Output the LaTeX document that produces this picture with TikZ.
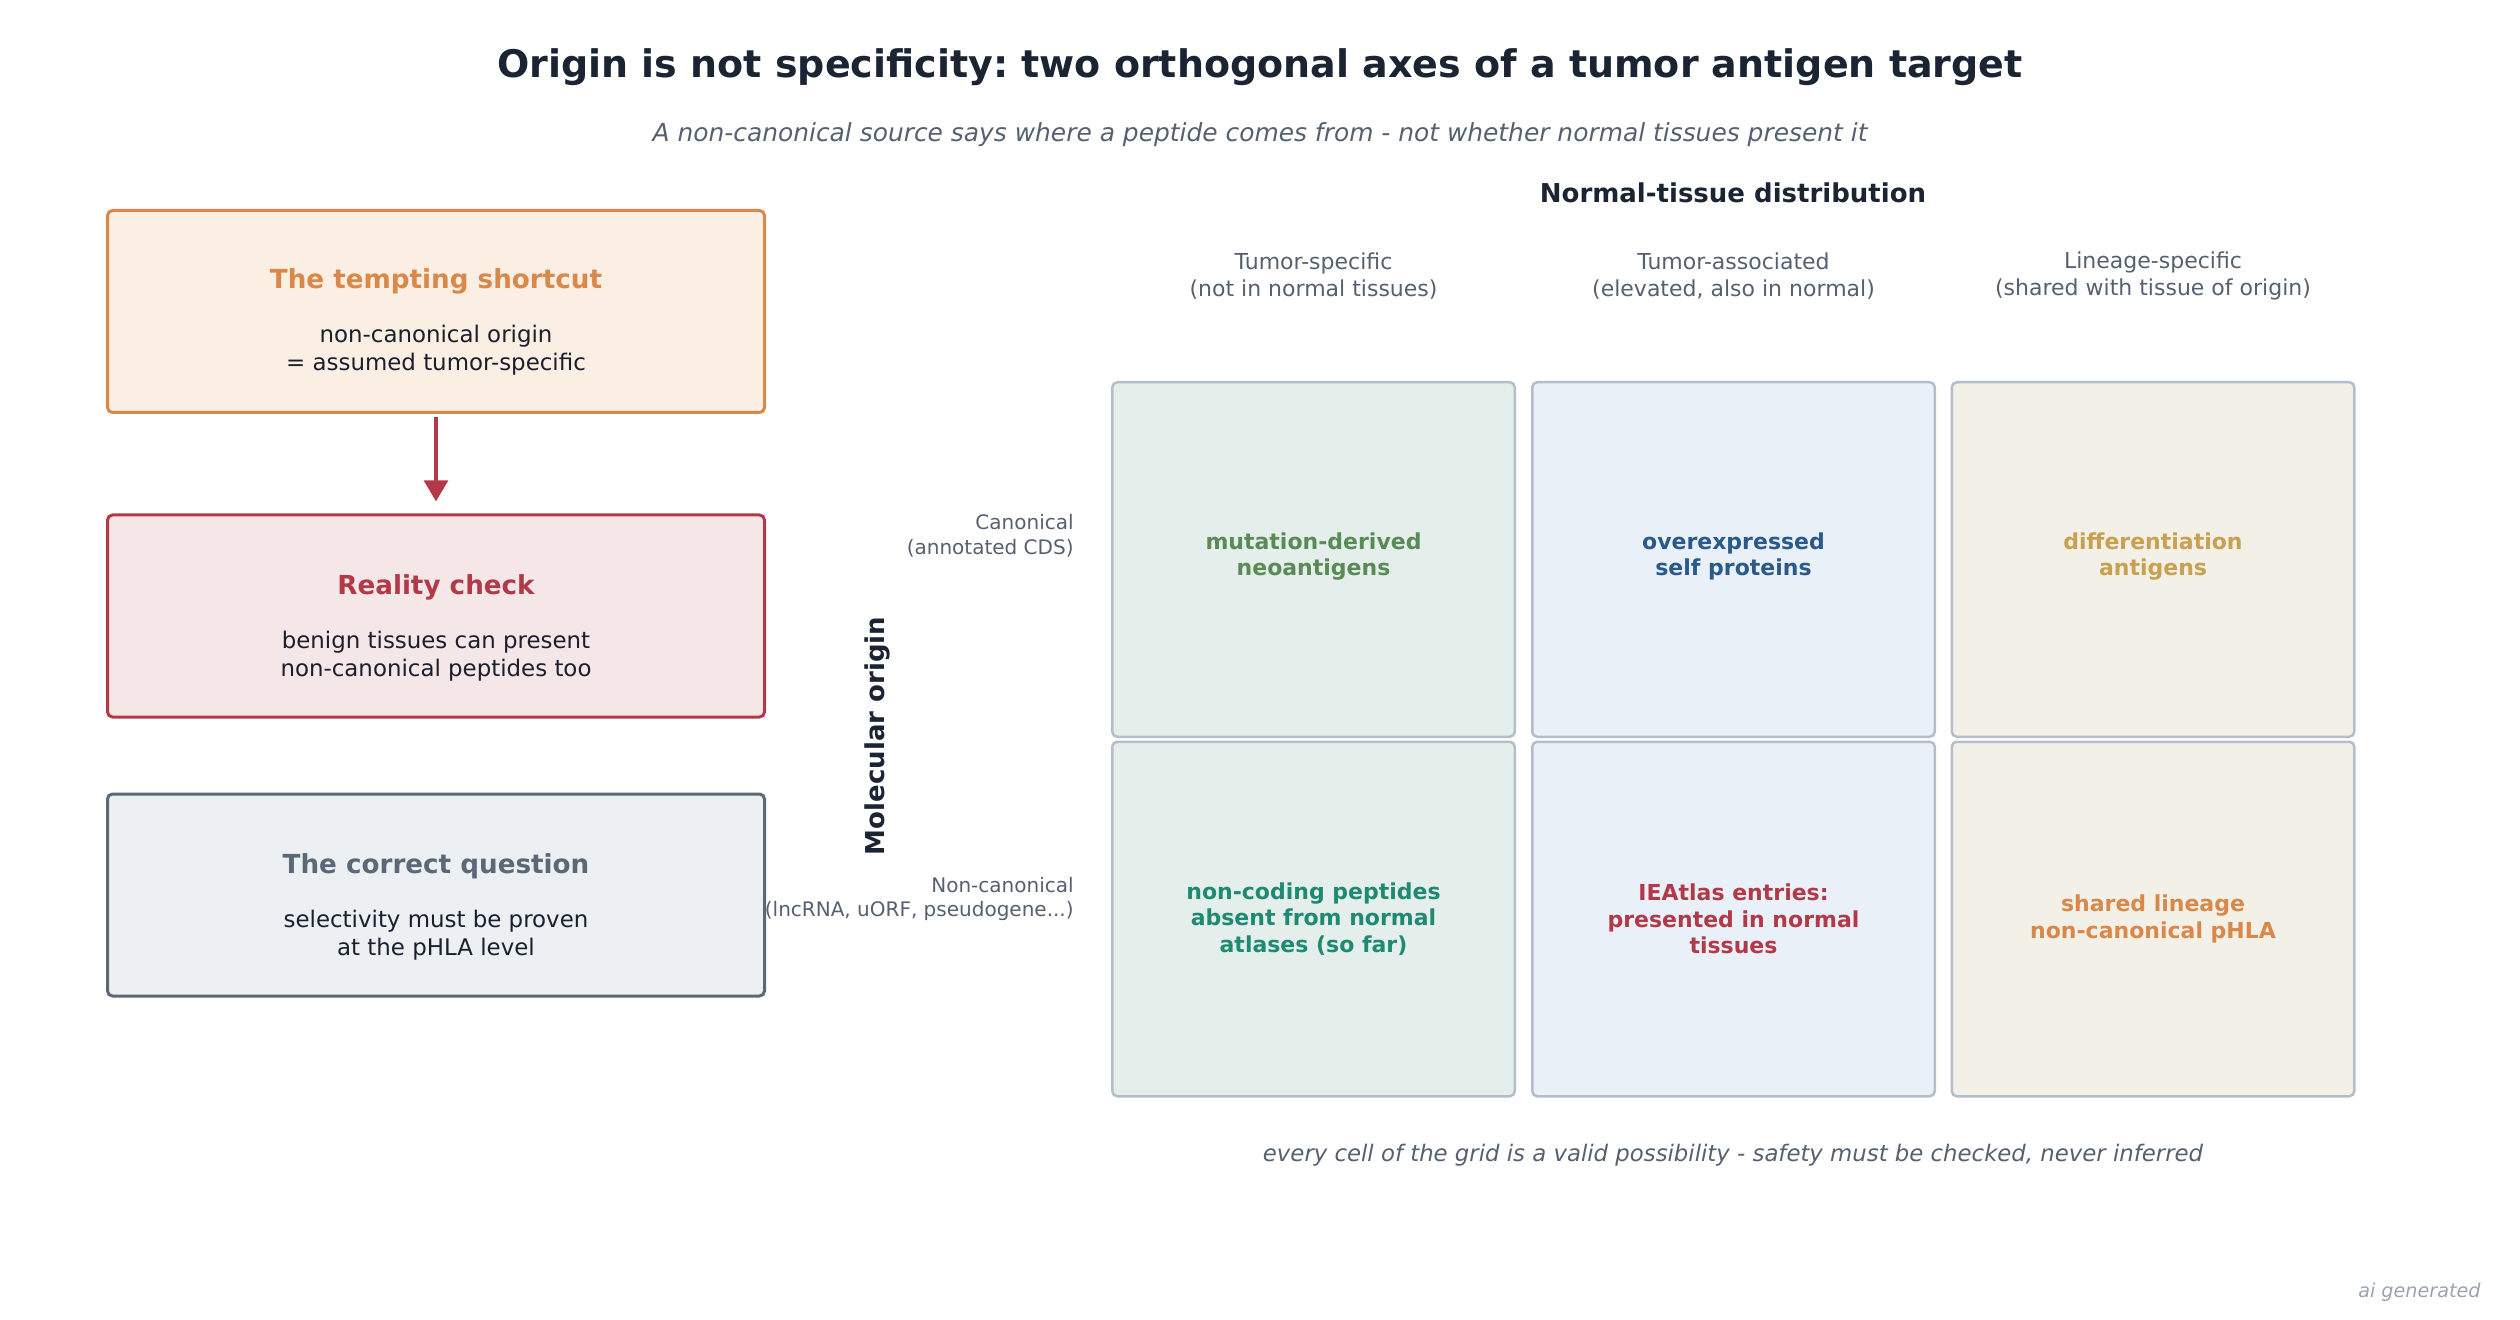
\documentclass[tikz,border=0pt]{standalone}
\usepackage{fontspec}
\setmainfont{DejaVu Sans}
\usetikzlibrary{arrows.meta}
\frenchspacing
\definecolor{ink}{HTML}{1B2433}
\definecolor{slate}{HTML}{556070}
\definecolor{bodyink}{HTML}{1A1F2E}
\definecolor{orng}{HTML}{D9884A}
\definecolor{orngfill}{HTML}{FBEEE2}
\definecolor{redc}{HTML}{B23A48}
\definecolor{redfill}{HTML}{F5E6E7}
\definecolor{grayc}{HTML}{5A6878}
\definecolor{grayfill}{HTML}{ECF0F3}
\definecolor{cellline}{HTML}{B4BECA}
\definecolor{fillA}{HTML}{E4EFEC}
\definecolor{fillB}{HTML}{E9F0F7}
\definecolor{fillC}{HTML}{F3F0E8}
\definecolor{greenc}{HTML}{5A8A55}
\definecolor{tealc}{HTML}{1E8A72}
\definecolor{bluec}{HTML}{2A5A8A}
\definecolor{goldc}{HTML}{C9A050}
\definecolor{faint}{HTML}{9AA3AE}
\tikzset{
  sidebox/.style={draw, line width=1.5pt, rounded corners=2.5pt, minimum width=328.5pt, minimum height=101pt, inner sep=0pt},
  boxhead/.style={font=\fontsize{13.1}{15.5}\selectfont\bfseries, align=center},
  boxbody/.style={font=\fontsize{11.45}{14}\selectfont, text=bodyink, align=center},
  cellbox/.style={draw=cellline, line width=1.25pt, rounded corners=2.5pt, minimum width=201.25pt, minimum height=177.25pt, inner sep=0pt},
  celltext/.style={font=\fontsize{11}{13.3}\selectfont\bfseries, align=center},
  colhead/.style={font=\fontsize{11}{13.8}\selectfont, text=slate, align=center},
  rowhead/.style={font=\fontsize{10}{12.3}\selectfont, text=slate, align=right, anchor=east, inner sep=0pt},
}
\begin{document}
\begin{tikzpicture}[x=0.5pt,y=-0.5pt]
\useasboundingbox (0,0) rectangle (2520,1320);
% titles
\node[font=\fontsize{19}{22}\selectfont\bfseries, text=ink] (title) at (1260,67) {Origin is not specificity: two orthogonal axes of a tumor antigen target};
\node[font=\fontsize{12.45}{15}\selectfont\itshape, text=slate] (subtitle) at (1260,135) {A non-canonical source says where a peptide comes from - not whether normal tissues present it};
% left boxes
\node[sidebox, draw=orng, fill=orngfill] (b1) at (436,311.5) {};
\node[boxhead, text=orng] (b1h) at (436,281.5) {The tempting shortcut};
\node[boxbody] (b1b) at (436,350.5) {non-canonical origin\\= assumed tumor-specific};
\node[sidebox, draw=redc, fill=redfill] (b2) at (436,616) {};
\node[boxhead, text=redc] (b2h) at (436,587.5) {Reality check};
\node[boxbody] (b2b) at (436,656.5) {benign tissues can present\\non-canonical peptides too};
\node[sidebox, draw=grayc, fill=grayfill] (b3) at (436,895) {};
\node[boxhead, text=grayc] (b3h) at (436,866.5) {The correct question};
\node[boxbody] (b3b) at (436,935.5) {selectivity must be proven\\at the pHLA level};
\draw[redc, line width=2.25pt, -{Triangle[width=11.7pt,length=10.5pt]}] ([yshift=-1.5pt]b1.south) -- ([yshift=6pt]b2.north);
% axis titles
\node[font=\fontsize{13}{15}\selectfont\bfseries, text=ink] (xaxis) at (1733,193) {Normal-tissue distribution};
\node[font=\fontsize{13}{15}\selectfont\bfseries, text=ink, rotate=90] (yaxis) at (877,736) {Molecular origin};
% column headers
\node[colhead] (c1) at (1313.5,276) {Tumor-specific\\(not in normal tissues)};
\node[colhead] (c2) at (1733.5,276) {Tumor-associated\\(elevated, also in normal)};
\node[colhead] (c3) at (2153,276) {Lineage-specific\\(shared with tissue of origin)};
% row headers
\node[rowhead] (r1) at (1074,536) {Canonical\\(annotated CDS)};
\node[rowhead] (r2) at (1074,899) {Non-canonical\\(lncRNA, uORF, pseudogene...)};
% grid
\node[cellbox, fill=fillA] (g11) at (1313.5,559.5) {};
\node[cellbox, fill=fillB] (g12) at (1733.5,559.5) {};
\node[cellbox, fill=fillC] (g13) at (2153,559.5) {};
\node[cellbox, fill=fillA] (g21) at (1313.5,919) {};
\node[cellbox, fill=fillB] (g22) at (1733.5,919) {};
\node[cellbox, fill=fillC] (g23) at (2153,919) {};
\node[celltext, text=greenc] (t11) at ([yshift=1.5pt]g11) {mutation-derived\\neoantigens};
\node[celltext, text=bluec] (t12) at ([yshift=1.5pt]g12) {overexpressed\\self proteins};
\node[celltext, text=goldc] (t13) at ([yshift=1.5pt]g13) {differentiation\\antigens};
\node[celltext, text=tealc] (t21) at (g21) {non-coding peptides\\absent from normal\\atlases (so far)};
\node[celltext, text=redc] (t22) at (g22) {IEAtlas entries:\\presented in normal\\tissues};
\node[celltext, text=orng] (t23) at (g23) {shared lineage\\non-canonical pHLA};
% footer
\node[font=\fontsize{11.4}{14}\selectfont\itshape, text=slate] (foot) at (1733,1155) {every cell of the grid is a valid possibility - safety must be checked, never inferred};
\node[font=\fontsize{9.6}{11}\selectfont\itshape, text=faint, anchor=east, inner sep=0pt] (ai) at (2481,1292) {ai generated};
\end{tikzpicture}
\end{document}
